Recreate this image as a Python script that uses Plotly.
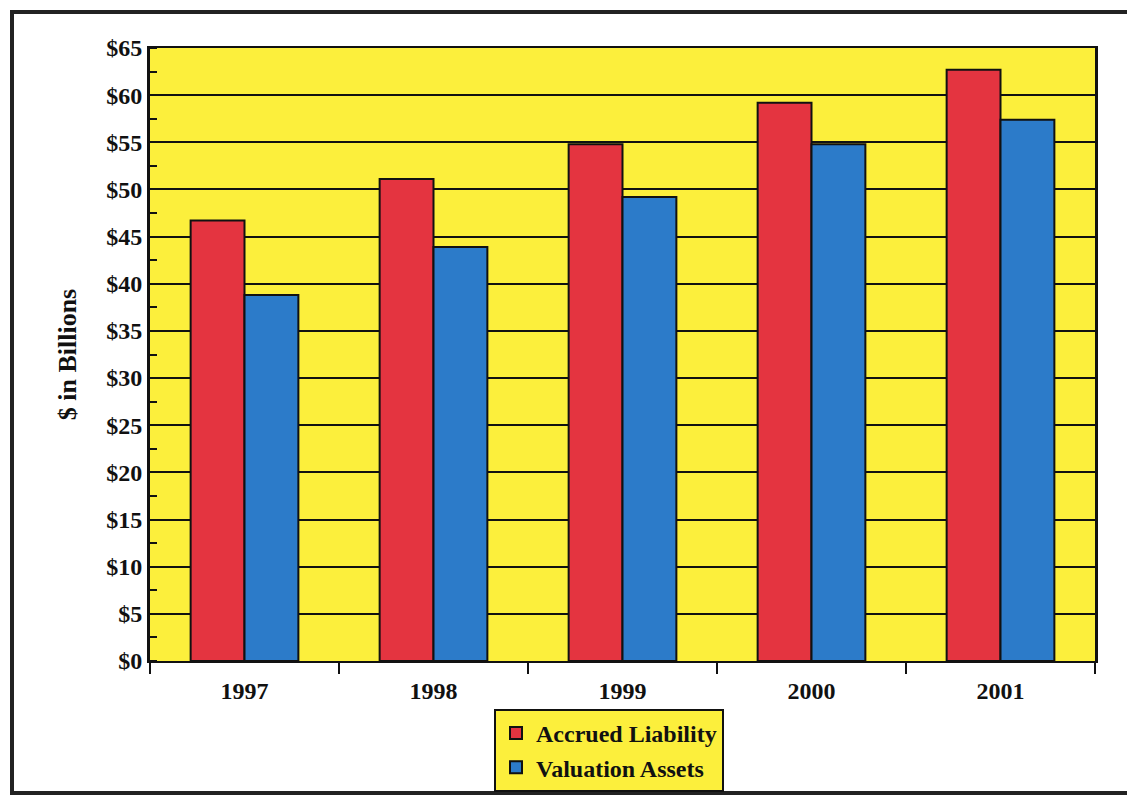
import plotly.graph_objects as go

years = ["1997", "1998", "1999", "2000", "2001"]
accrued_liability = [46.7, 51.1, 54.8, 59.2, 62.7]
valuation_assets = [38.8, 43.9, 49.2, 54.8, 57.4]
y_tick_vals = [0, 5, 10, 15, 20, 25, 30, 35, 40, 45, 50, 55, 60, 65]
y_tick_text = ["$" + str(v) for v in y_tick_vals]

YELLOW = "#FCEF3C"
RED = "#E43440"
BLUE = "#2C7BC9"
FONT = "Liberation Serif"

fig = go.Figure()
fig.add_trace(go.Bar(x=years, y=accrued_liability, name="Accrued Liability",
                     marker=dict(color=RED, line=dict(color="#111", width=2))))
fig.add_trace(go.Bar(x=years, y=valuation_assets, name="Valuation Assets",
                     marker=dict(color=BLUE, line=dict(color="#111", width=2))))

fig.update_layout(
    width=1127, height=795,
    margin=dict(l=150, r=32, t=48, b=134, autoexpand=False),
    paper_bgcolor="white",
    plot_bgcolor=YELLOW,
    barmode="group",
    bargap=0.43,
    bargroupgap=0,
    font=dict(family=FONT, color="#111", size=20),
    showlegend=True,
    legend=dict(
        orientation="v",
        xref="container", yref="container",
        x=609 / 1127, xanchor="center",
        y=1 - 709 / 795, yanchor="top",
        bgcolor=YELLOW,
        bordercolor="#111", borderwidth=2,
        font=dict(family=FONT, size=24, color="#111", weight="bold"),
        tracegroupgap=0,
        itemwidth=30,
    ),
    xaxis=dict(
        type="category",
        tickson="boundaries",
        ticks="outside", ticklen=11, tickwidth=2, tickcolor="#111",
        showline=True, linecolor="#111", linewidth=2, mirror=True,
        showgrid=False,
        tickfont=dict(family=FONT, size=24, color="#111", weight="bold"),
        ticklabelstandoff=7,
    ),
    yaxis=dict(
        range=[0, 65],
        tickvals=y_tick_vals, ticktext=y_tick_text,
        ticks="outside", ticklen=0,
        showline=True, linecolor="#111", linewidth=3, mirror=True,
        showgrid=True, gridcolor="#111", gridwidth=2,
        zeroline=False,
        tickfont=dict(family=FONT, size=24, color="#111", weight="bold"),
        title=dict(text="$ in Billions", standoff=23,
                   font=dict(family=FONT, size=26, color="#111", weight="bold")),
        minor=dict(dtick=2.5, tick0=0, ticks="inside", ticklen=7, tickwidth=2,
                   tickcolor="#111", showgrid=False),
    ),
    shapes=[
        dict(type="rect", xref="paper", yref="paper",
             x0=(12 - 150) / 945, x1=(1140 - 150) / 945,
             y0=(661 - 793) / 613, y1=(661 - 12) / 613,
             line=dict(color="#222", width=4), fillcolor="rgba(0,0,0,0)",
             layer="below"),
    ],
)

fig.write_html("out.html")
